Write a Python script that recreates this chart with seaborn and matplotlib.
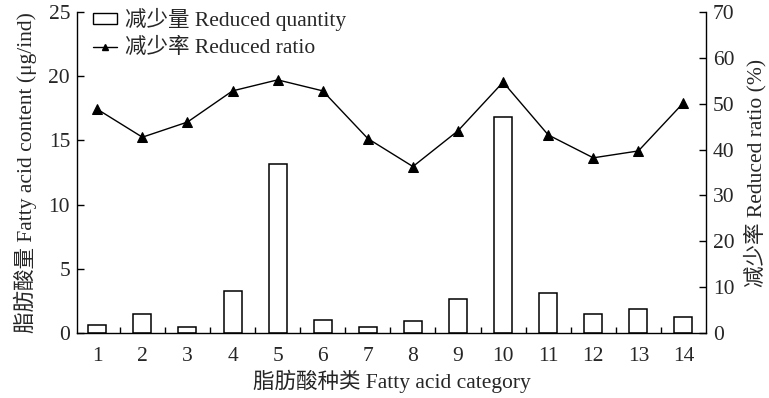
import matplotlib
matplotlib.use("Agg")
import matplotlib.pyplot as plt
import seaborn as sns
import pandas as pd
from matplotlib.patches import Patch
from matplotlib.lines import Line2D

categories = [1, 2, 3, 4, 5, 6, 7, 8, 9, 10, 11, 12, 13, 14]
reduced_quantity = [0.62, 1.45, 0.5, 3.27, 13.15, 1.0, 0.5, 0.93, 2.62, 16.8, 3.11, 1.45, 1.87, 1.25]
reduced_ratio = [48.8, 42.7, 46.0, 52.8, 55.2, 52.8, 42.4, 36.3, 44.1, 54.7, 43.2, 38.2, 39.7, 50.2]

df = pd.DataFrame({"cat": categories, "qty": reduced_quantity, "ratio": reduced_ratio})

sns.set_theme(style="ticks")
fam = ["Liberation Serif", "Noto Sans CJK SC"]
plt.rcParams["font.family"] = fam
fs = 15.5

fig = plt.figure(figsize=(7.69, 3.98), dpi=100)
ax = fig.add_axes([77/769, 1 - 333/398, (706-77)/769, (333-12)/398])

sns.barplot(data=df, x="cat", y="qty", native_scale=True, width=0.4,
            color="white", edgecolor="black", linewidth=1.1, ax=ax, zorder=2)
ax.set_xlim(0.55, 14.5)
ax.set_ylim(0, 25)
ax.set_yticks([0, 5, 10, 15, 20, 25])
ax.set_xticks(categories)
ax.set_xticklabels([str(c) for c in categories])
ax.set_xticks([c + 0.5 for c in categories[:-1]], minor=True)
ax.tick_params(axis="x", which="major", length=0, labelsize=fs, pad=10)
ax.tick_params(axis="x", which="minor", length=4, direction="in", width=1, color="black")
ax.tick_params(axis="y", direction="in", length=5, width=1, labelsize=fs, color="black", pad=5)
ax.set_xlabel("脂肪酸种类 Fatty acid category", fontsize=fs, labelpad=3)
ax.set_ylabel("脂肪酸量 Fatty acid content (μg/ind)", fontsize=fs, labelpad=8)

ax2 = ax.twinx()
sns.lineplot(data=df, x="cat", y="ratio", color="black", linewidth=1.0,
             marker="^", markersize=6.5, markeredgecolor="black", ax=ax2)
ax2.set_ylim(0, 70)
ax2.set_yticks([0, 10, 20, 30, 40, 50, 60, 70])
ax2.tick_params(axis="y", direction="in", length=5, width=1, labelsize=fs, color="black", pad=5)
ax2.set_ylabel("减少率 Reduced ratio (%)", fontsize=fs, labelpad=7)
ax2.set_xlim(0.55, 14.5)

for a in (ax, ax2):
    a.spines["top"].set_visible(False)
    for s in ("left", "right", "bottom"):
        a.spines[s].set_color("black")
        a.spines[s].set_linewidth(1.0)
ax.spines["right"].set_visible(False)
ax2.spines["left"].set_visible(False)
ax2.spines["bottom"].set_visible(False)

handles = [Patch(facecolor="white", edgecolor="black", linewidth=1.0),
           Line2D([], [], color="black", marker="^", markersize=5, linewidth=1.0)]
labels = ["减少量 Reduced quantity", "减少率 Reduced ratio"]
leg = ax2.legend(handles, labels, loc="upper left", bbox_to_anchor=(0.025, 1.012),
                 frameon=False, fontsize=fs, handlelength=1.15, handleheight=0.45,
                 handletextpad=0.35, labelspacing=0.32, borderaxespad=0, borderpad=0)

fig.savefig("out.png", dpi=100)
